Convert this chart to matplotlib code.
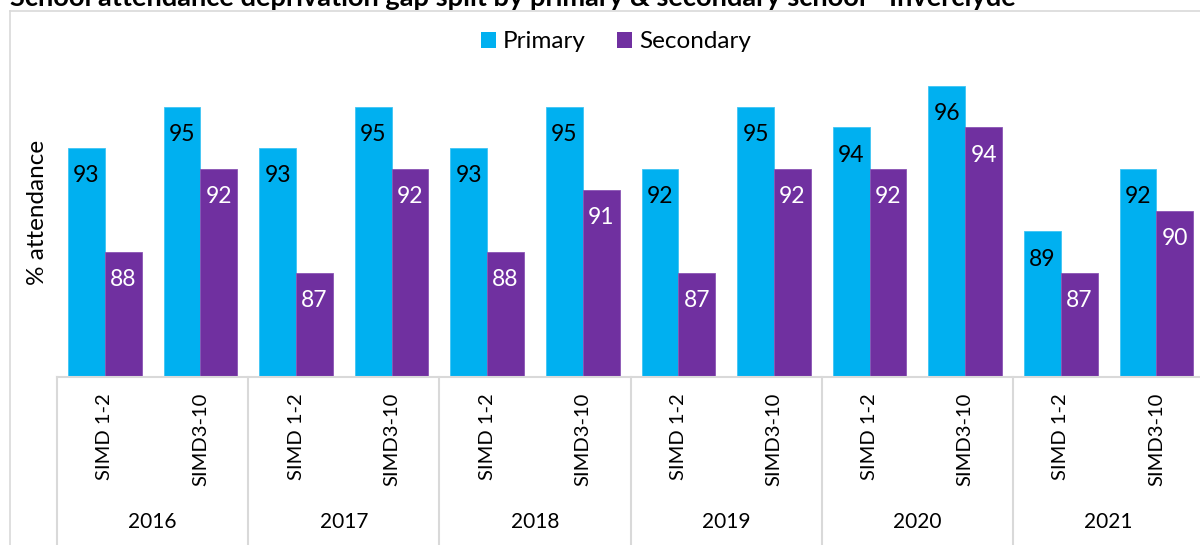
import numpy as np
import matplotlib
matplotlib.use('Agg')
import matplotlib.pyplot as plt
from matplotlib.patches import Patch
from matplotlib.lines import Line2D

plt.rcParams['font.family'] = ['Lato', 'DejaVu Sans']

# data
years = ['2016', '2017', '2018', '2019', '2020', '2021']
groups = ['SIMD 1-2', 'SIMD3-10']
primary = [93, 95, 93, 95, 93, 95, 92, 95, 94, 96, 89, 92]
secondary = [88, 92, 87, 92, 88, 91, 87, 92, 92, 94, 87, 90]

c_prim = '#00B0F0'
c_sec = '#7030A0'
grey = '#D9D9D9'
fs = 17.5       # legend, axis title
fs_lab = 16.5   # data labels
fs_cat = 14.5   # category / year labels

W, H = 1200, 545
fig = plt.figure(figsize=(12, 5.45), dpi=100)

def fx(px):
    return px / W

def fy(py):
    return 1 - py / H

# chart area border (left and top only visible)
fig.add_artist(Line2D([fx(10), fx(10)], [fy(11), 0], color=grey, lw=1.2))
fig.add_artist(Line2D([fx(10), 1], [fy(11), fy(11)], color=grey, lw=1.2))

# title (cut off at top in the reference)
title = fig.text(fx(10), fy(6), 'School attendance deprivation gap split by primary & secondary school - Inverclyde',
                 fontsize=15, fontweight='bold', ha='left', va='baseline')
fig.canvas.draw()
bb = title.get_window_extent()
title.set_fontsize(15 * 1015 / bb.width)

# axes: baseline at y=377 px, 20.8 px per unit, 95.6 px per category
ncat = len(primary)
left_px, base_px = 57, 377
cat_w = 95.6
ymin, ymax = 82, 98
ax = fig.add_axes([fx(left_px), fy(base_px), ncat * cat_w / W, (ymax - ymin) * 20.8 / H])
ax.set_xlim(-0.5, ncat - 0.5)
ax.set_ylim(ymin, ymax)
ax.patch.set_alpha(0)

x = np.arange(ncat)
bw = 0.385
ax.bar(x - bw / 2, np.array(primary) - ymin, bw, bottom=ymin, color=c_prim,
       edgecolor='#3FC4F4', linewidth=0.6, label='Primary')
ax.bar(x + bw / 2, np.array(secondary) - ymin, bw, bottom=ymin, color=c_sec,
       edgecolor='#8A55B4', linewidth=0.6, label='Secondary')

for xi, v in zip(x, primary):
    ax.annotate(str(v), (xi - bw / 2, v), xytext=(0, -20), textcoords='offset points',
                ha='center', va='center', fontsize=fs_lab, color='black')
for xi, v in zip(x, secondary):
    ax.annotate(str(v), (xi + bw / 2, v), xytext=(0, -20), textcoords='offset points',
                ha='center', va='center', fontsize=fs_lab, color='white')

for s in ax.spines.values():
    s.set_visible(False)
ax.set_xticks([])
ax.set_yticks([])

# category axis line and group separators
fig.add_artist(Line2D([fx(left_px), 1], [fy(base_px), fy(base_px)], color=grey, lw=1.5))
for k in range(len(years) + 1):
    px = left_px + k * 2 * cat_w
    fig.add_artist(Line2D([fx(px), fx(px)], [fy(base_px), 0], color=grey, lw=1.5))

# category labels
for i in range(ncat):
    px = left_px + (i + 0.5) * cat_w
    fig.text(fx(px), fy(393), groups[i % 2], rotation=90, ha='center', va='top', fontsize=fs_cat)
for k, yr in enumerate(years):
    px = left_px + (2 * k + 1) * cat_w
    fig.text(fx(px), fy(522), yr, ha='center', va='center', fontsize=15)

fig.text(fx(38), fy(212), '% attendance', rotation=90, ha='center', va='center', fontsize=fs)

handles = [Patch(facecolor=c_prim, label='Primary'), Patch(facecolor=c_sec, label='Secondary')]
fig.legend(handles=handles, loc='center', bbox_to_anchor=(fx(616), fy(42)), ncol=2, frameon=False,
           fontsize=fs, handlelength=0.6, handleheight=0.6, handletextpad=0.3, columnspacing=1.3)

fig.savefig('out.png', dpi=100)
